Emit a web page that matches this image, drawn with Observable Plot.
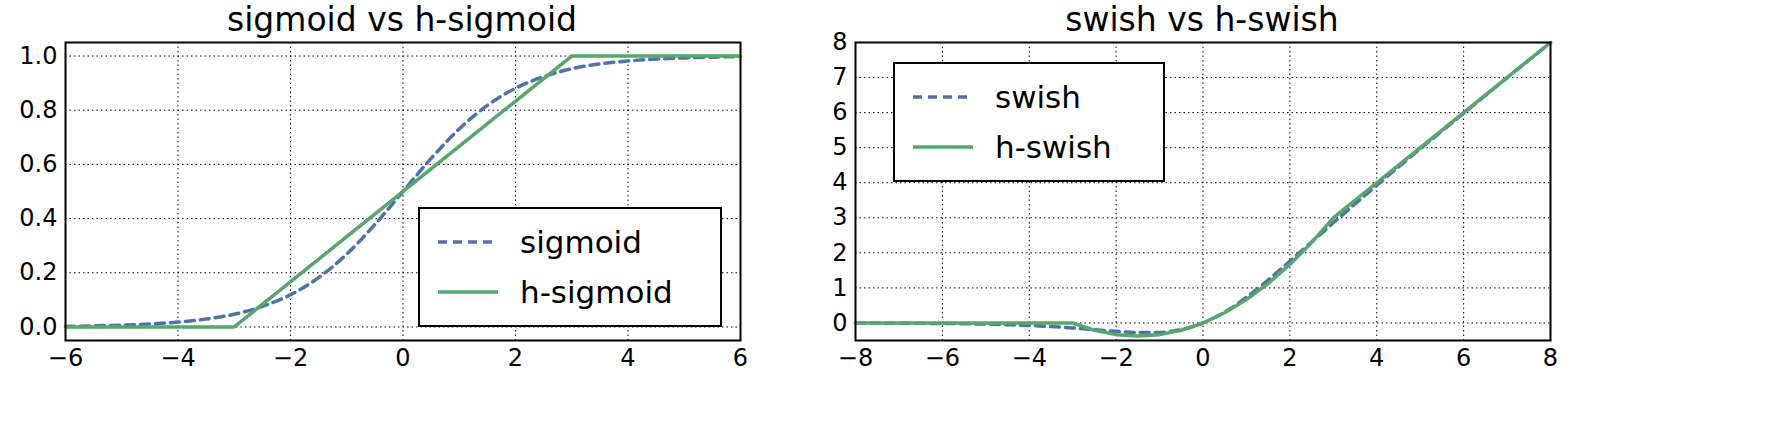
<!DOCTYPE html>
<html><head><meta charset="utf-8">
<script src="https://cdn.jsdelivr.net/npm/d3@7"></script>
<script src="https://cdn.jsdelivr.net/npm/@observablehq/plot@0.6"></script>
<style>
body{margin:0;background:#fff;font-family:"DejaVu Sans",sans-serif;}
#wrap{position:relative;width:1767px;height:434px;}
.panel{position:absolute;top:0;max-width:none;}
.title{position:absolute;top:0px;font-size:33px;text-align:center;}
.legend{position:absolute;border:2px solid #000;background:#fff;font-size:31px;padding:8px 18px;}
.legend div{display:flex;align-items:center;height:50px;}
.legend svg{margin-right:22px;}
</style></head><body>
<div id="wrap"></div>
<script>
// sigmoid vs h-sigmoid
const sigX = [-6,-5.5,-5,-4.5,-4,-3.5,-3,-2.5,-2,-1.5,-1,-0.5,0,0.5,1,1.5,2,2.5,3,3.5,4,4.5,5,5.5,6];
const sigY = [0.002,0.004,0.007,0.011,0.018,0.029,0.047,0.076,0.119,0.182,0.269,0.378,0.5,0.622,0.731,0.818,0.881,0.924,0.953,0.971,0.982,0.989,0.993,0.996,0.998];
const hsigX = [-6,-3,3,6];
const hsigY = [0,0,1,1];
// swish vs h-swish
const swX = [-8,-7.5,-7,-6.5,-6,-5.5,-5,-4.5,-4,-3.5,-3,-2.5,-2,-1.5,-1,-0.5,0,0.5,1,1.5,2,2.5,3,3.5,4,4.5,5,5.5,6,6.5,7,7.5,8];
const swY = [-0.003,-0.004,-0.006,-0.01,-0.015,-0.022,-0.033,-0.05,-0.072,-0.103,-0.142,-0.19,-0.238,-0.274,-0.269,-0.189,0,0.311,0.731,1.226,1.762,2.31,2.857,3.397,3.928,4.45,4.967,5.478,5.985,6.49,6.994,7.496,7.997];
const hswX = [-8,-3,-2.5,-2,-1.5,-1,-0.5,0,0.5,1,1.5,2,2.5,3,8];
const hswY = [0,0,-0.208,-0.333,-0.375,-0.333,-0.208,0,0.292,0.667,1.125,1.667,2.292,3,8];

const blue = "#4c72b0", green = "#55a868";
const wrap = document.getElementById("wrap");

function panel(left, width, plotW, xDom, yDom, xTicks, yTicks, yFmt, dash, solid) {
  const zip = (xs, ys) => xs.map((x, i) => ({x, y: ys[i]}));
  const svg = Plot.plot({
    width, height: 434,
    marginLeft: 65, marginRight: width - 65 - plotW, marginTop: 42, marginBottom: 94,
    style: {fontSize: "24px", fontFamily: "DejaVu Sans", background: "transparent"},
    x: {domain: xDom, ticks: xTicks, tickSize: 0, tickPadding: 8, label: null},
    y: {domain: yDom, ticks: yTicks, tickSize: 0, tickPadding: 8, tickFormat: yFmt, label: null},
    marks: [
      Plot.gridX(xTicks, {stroke: "#000", strokeOpacity: 1, strokeDasharray: "1.5,3", strokeWidth: 1}),
      Plot.gridY(yTicks, {stroke: "#000", strokeOpacity: 1, strokeDasharray: "1.5,3", strokeWidth: 1}),
      Plot.line(zip(dash[0], dash[1]), {x: "x", y: "y", stroke: blue, strokeWidth: 3.5, strokeDasharray: "9,6", curve: "monotone-x"}),
      Plot.line(zip(solid[0], solid[1]), {x: "x", y: "y", stroke: green, strokeWidth: 3.5}),
      Plot.frame({stroke: "#000", strokeWidth: 2})
    ]
  });
  svg.classList.add("panel");
  svg.style.left = left + "px";
  wrap.appendChild(svg);
}

panel(0, 760, 675, [-6, 6], [-0.05, 1.05], d3.range(-6, 7, 2), d3.range(0, 1.01, 0.2), d3.format(".1f"),
  [sigX, sigY], [hsigX, hsigY]);
panel(790, 780, 695, [-8, 8], [-0.5, 8], d3.range(-8, 9, 2), d3.range(0, 9, 1), d3.format("d"),
  [swX, swY], [hswX, hswY]);

function title(text, cx) {
  const d = document.createElement("div");
  d.className = "title"; d.textContent = text;
  d.style.left = (cx - 300) + "px"; d.style.width = "600px";
  wrap.appendChild(d);
}
title("sigmoid vs h-sigmoid", 402);
title("swish vs h-swish", 1202);

function legend(left, top, width, names) {
  const d = document.createElement("div");
  d.className = "legend";
  d.style.left = left + "px"; d.style.top = top + "px"; d.style.width = width + "px";
  const styles = [[blue, "9,6"], [green, "none"]];
  names.forEach((n, i) => {
    const row = document.createElement("div");
    row.innerHTML = `<svg width="60" height="10"><line x1="0" y1="5" x2="60" y2="5" stroke="${styles[i][0]}" stroke-width="3.5" stroke-dasharray="${styles[i][1]}"/></svg><span>${n}</span>`;
    d.appendChild(row);
  });
  wrap.appendChild(d);
}
legend(418, 207, 264, ["sigmoid", "h-sigmoid"]);
legend(893, 62, 232, ["swish", "h-swish"]);
</script>
</body></html>
